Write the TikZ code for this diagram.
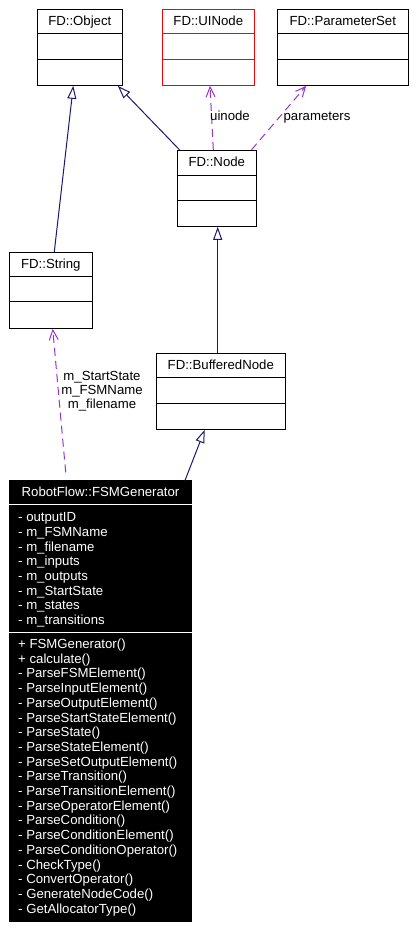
\documentclass[tikz,border=0pt]{standalone}
\usepackage{fontspec}
\setmainfont{Liberation Sans}
\usetikzlibrary{arrows.meta,calc}
\definecolor{navyline}{HTML}{191970}
\definecolor{depline}{HTML}{9A32CD}
\begin{document}
\begin{tikzpicture}[x=1pt,y=-1pt,
  font=\fontsize{13.2}{14.7}\selectfont,
  umlbox/.style={draw, line width=1pt, rectangle, inner sep=0pt},
  sepline/.style={line width=1pt},
  title/.style={anchor=base, inner sep=0pt},
  member/.style={anchor=base west, inner sep=0pt, text=white},
  inh/.style={draw=navyline, line width=1pt, -{Triangle[length=13pt,width=9pt,fill=white]}},
  dep/.style={draw=depline, line width=1pt, dash pattern=on 8pt off 5pt, -{Straight Barb[length=10pt,width=9pt]}},
  deplabel/.style={anchor=base, inner sep=0pt}]
\useasboundingbox (0,0) rectangle (418,930);

% FD::Object
\node[umlbox, minimum width=85pt, minimum height=76pt] (obj) at (79.8,47.3) {};
\draw[sepline] ($(obj.north west)+(0,25)$) -- ($(obj.north east)+(0,25)$);
\draw[sepline] ($(obj.north west)+(0,51)$) -- ($(obj.north east)+(0,51)$);
\node[title] (objt) at ($(obj.north)+(0,16.7)$) {FD::Object};

% FD::UINode
\node[umlbox, draw=red, minimum width=92pt, minimum height=76pt] (uin) at (208.3,47.3) {};
\draw[sepline, red] ($(uin.north west)+(0,25)$) -- ($(uin.north east)+(0,25)$);
\draw[sepline, red] ($(uin.north west)+(0,51)$) -- ($(uin.north east)+(0,51)$);
\node[title] (uint) at ($(uin.north)+(0,16.7)$) {FD::UINode};

% FD::ParameterSet
\node[umlbox, minimum width=131pt, minimum height=76pt] (par) at (342.8,47.3) {};
\draw[sepline] ($(par.north west)+(0,25)$) -- ($(par.north east)+(0,25)$);
\draw[sepline] ($(par.north west)+(0,51)$) -- ($(par.north east)+(0,51)$);
\node[title] (part) at ($(par.north)+(0,16.7)$) {FD::ParameterSet};

% FD::Node
\node[umlbox, minimum width=79pt, minimum height=76pt] (nod) at (216.8,188.3) {};
\draw[sepline] ($(nod.north west)+(0,26)$) -- ($(nod.north east)+(0,26)$);
\draw[sepline] ($(nod.north west)+(0,51)$) -- ($(nod.north east)+(0,51)$);
\node[title] (nodt) at ($(nod.north)+(0,17)$) {FD::Node};

% FD::String
\node[umlbox, minimum width=83pt, minimum height=76pt] (str) at (50.8,290.3) {};
\draw[sepline] ($(str.north west)+(0,25)$) -- ($(str.north east)+(0,25)$);
\draw[sepline] ($(str.north west)+(0,50)$) -- ($(str.north east)+(0,50)$);
\node[title] (strt) at ($(str.north)+(0,16.7)$) {FD::String};

% FD::BufferedNode
\node[umlbox, minimum width=129pt, minimum height=76pt] (buf) at (220.8,391.3) {};
\draw[sepline] ($(buf.north west)+(0,25)$) -- ($(buf.north east)+(0,25)$);
\draw[sepline] ($(buf.north west)+(0,51)$) -- ($(buf.north east)+(0,51)$);
\node[title] (buft) at ($(buf.north)+(0,16.7)$) {FD::BufferedNode};

% RobotFlow::FSMGenerator
\node[umlbox, fill=black, minimum width=182.4pt, minimum height=440.7pt] (fsm) at (100.5,701.3) {};
\draw[sepline, white] ($(fsm.north west)+(0,24)$) -- ($(fsm.north east)+(0,24)$);
\draw[sepline, white] ($(fsm.north west)+(0,152)$) -- ($(fsm.north east)+(0,152)$);
\node[title, text=white] (fsmt) at ($(fsm.north)+(0,16)$) {RobotFlow::FSMGenerator};
\foreach \t [count=\i from 0] in {- outputID, - m\_FSMName, - m\_filename, - m\_inputs,
  - m\_outputs, - m\_StartState, - m\_states, - m\_transitions}
  \node[member] (attr\i) at (18,521.7+14.7*\i) {\t};
\foreach \t [count=\i from 0] in {+ FSMGenerator(), + calculate(), - ParseFSMElement(),
  - ParseInputElement(), - ParseOutputElement(), - ParseStartStateElement(),
  - ParseState(), - ParseStateElement(), - ParseSetOutputElement(),
  - ParseTransition(), - ParseTransitionElement(), - ParseOperatorElement(),
  - ParseCondition(), - ParseConditionElement(), - ParseConditionOperator(),
  - CheckType(), - ConvertOperator(), - GenerateNodeCode(), - GetAllocatorType()}
  \node[member] (meth\i) at (18,648.5+14.7*\i) {\t};

% connectors
\draw[inh] ($(str.north)+(3.5,0)$) -- ($(obj.south)+(-6.5,0)$);
\draw[inh] ($(nod.north west)+(2.7,0)$) -- ($(obj.south east)+(-5,0)$);
\draw[inh] ($(buf.north)+(-3.1,0)$) -- ($(nod.south)+(0.9,0)$);
\draw[inh] ($(fsm.north)+(84.5,0)$) -- ($(buf.south)+(-16.1,0)$);
\draw[dep] ($(nod.north)+(-3.5,0)$) -- ($(uin.south)+(1.7,0)$);
\draw[dep] ($(nod.north east)+(-5.3,0)$) -- ($(par.south west)+(29.4,0)$);
\draw[dep] ($(fsm.north)+(-34.8,-8)$) -- ($(str.south)+(1.9,0)$);

% labels
\node[deplabel] (luin) at (230,120.5) {uinode};
\node[deplabel] (lpar) at (317,120.5) {parameters};
\node[deplabel] (lstr1) at (102,380) {m\_StartState};
\node[deplabel] (lstr2) at (102,394.2) {m\_FSMName};
\node[deplabel] (lstr3) at (102,408.4) {m\_filename};
\end{tikzpicture}
\end{document}
